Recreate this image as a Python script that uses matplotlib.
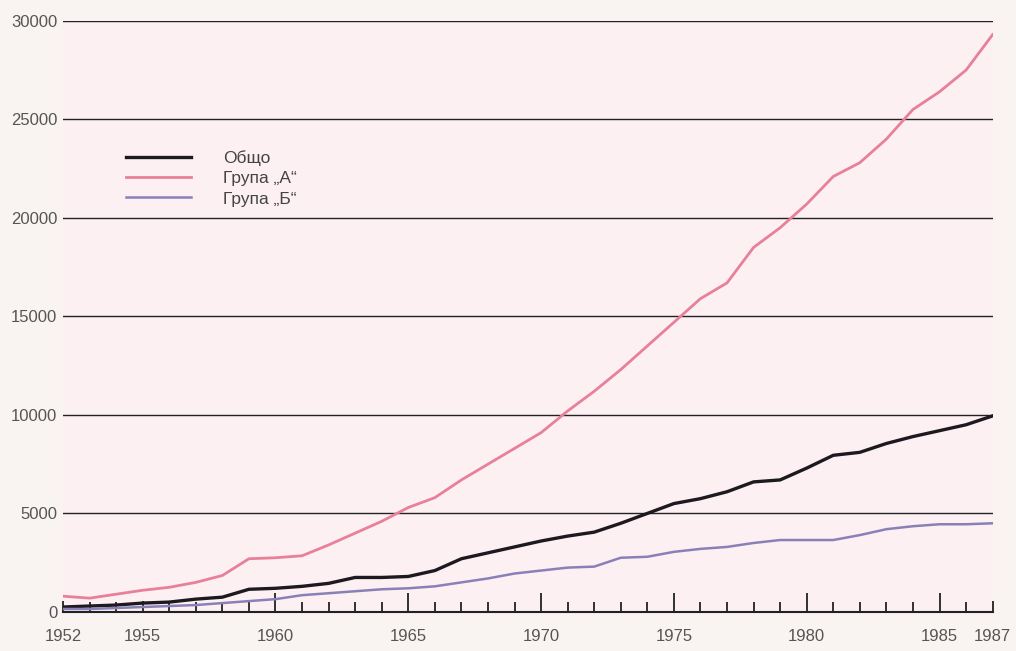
import matplotlib
matplotlib.use("Agg")
import matplotlib.pyplot as plt
from matplotlib.ticker import MultipleLocator

plt.rcParams['font.family'] = ['Liberation Sans', 'DejaVu Sans']

years = list(range(1952, 1988))

total = [250, 300, 350, 450, 500, 650, 750, 1150, 1200, 1300,
         1450, 1750, 1750, 1800, 2100, 2700, 3000, 3300, 3600, 3850,
         4050, 4500, 5000, 5500, 5750, 6100, 6600, 6700, 7300, 7950,
         8100, 8550, 8900, 9200, 9500, 9950]

group_a = [800, 700, 900, 1100, 1250, 1500, 1850, 2700, 2750, 2850,
           3400, 4000, 4600, 5300, 5800, 6700, 7500, 8300, 9100, 10200,
           11200, 12300, 13500, 14700, 15900, 16700, 18500, 19500, 20700, 22100,
           22800, 24000, 25500, 26400, 27500, 29300]

group_b = [150, 150, 200, 250, 300, 350, 450, 550, 650, 850,
           950, 1050, 1150, 1200, 1300, 1500, 1700, 1950, 2100, 2250,
           2300, 2750, 2800, 3050, 3200, 3300, 3500, 3650, 3650, 3650,
           3900, 4200, 4350, 4450, 4450, 4500]

series_names = ["Общо", "Група „А“", "Група „Б“"]
colors = ['#1c1a1e', '#e8809a', '#8a80b8']
widths = [2.4, 2.0, 1.8]

label_years = [1952, 1955, 1960, 1965, 1970, 1975, 1980, 1985, 1987]
long_ticks = [1960, 1965, 1970, 1975, 1980, 1985]
y_ticks = [0, 5000, 10000, 15000, 20000, 25000, 30000]

fig = plt.figure(figsize=(10.16, 6.51), dpi=100, facecolor='#f9f4f2')
ax = fig.add_axes([0.062, 0.06, 0.915, 0.908])
ax.set_facecolor('#fcf0f3')

for vals, name, c, w in zip([total, group_a, group_b], series_names, colors, widths):
    ax.plot(years, vals, color=c, linewidth=w, label=name, zorder=3)

ax.set_xlim(1952, 1987)
ax.set_ylim(0, 30000)

ax.set_yticks(y_ticks)
ax.set_yticklabels([str(v) for v in y_ticks])
ax.yaxis.grid(True, color='#222222', linewidth=1.0)
ax.set_axisbelow(True)
ax.tick_params(axis='y', length=0, pad=4, labelsize=12, labelcolor='#555555')

ax.set_xticks(label_years)
ax.set_xticklabels([str(y) for y in label_years])
ax.xaxis.set_minor_locator(MultipleLocator(1))
ax.tick_params(axis='x', which='major', direction='in', length=14, width=1.3,
               color='#222222', pad=12, labelsize=12, labelcolor='#555555')
ax.tick_params(axis='x', which='minor', direction='in', length=7, width=1.3,
               color='#222222')
for t, yr in zip(ax.xaxis.get_major_ticks(), label_years):
    if yr not in long_ticks:
        t.tick1line.set_markersize(8)

for s in ['left', 'top', 'right']:
    ax.spines[s].set_visible(False)
ax.spines['bottom'].set_linewidth(1.5)
ax.spines['bottom'].set_color('#222222')

leg = ax.legend(loc='upper left', bbox_to_anchor=(0.0505, 0.808), frameon=False,
                fontsize=12.5, handlelength=3.75, handletextpad=1.85,
                labelspacing=0.3)
for txt in leg.get_texts():
    txt.set_color('#444444')

fig.savefig('out.png', dpi=100, facecolor=fig.get_facecolor())
